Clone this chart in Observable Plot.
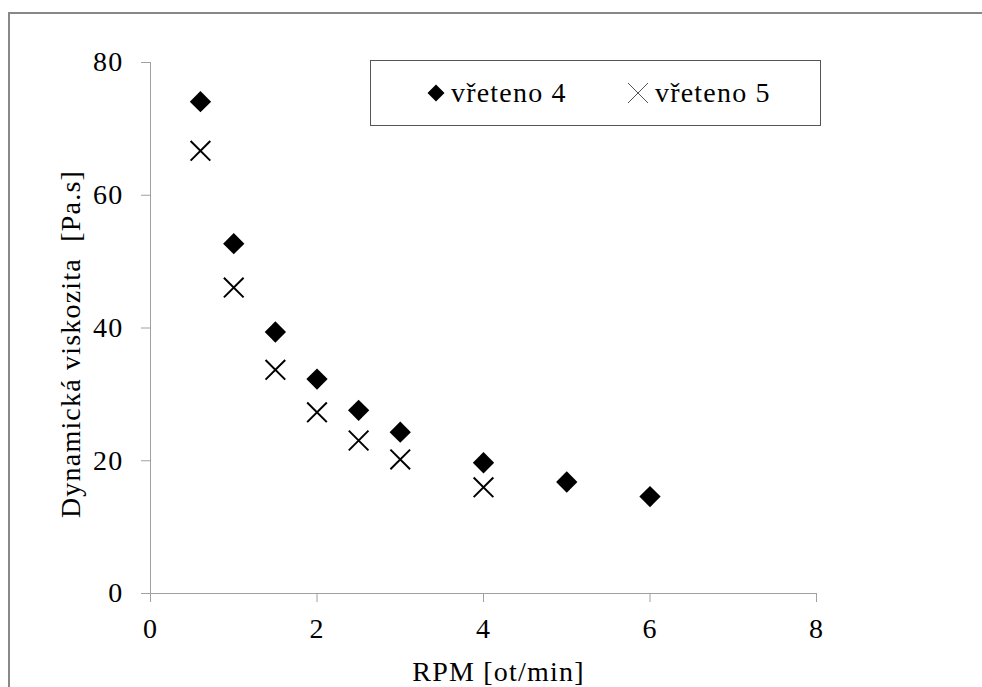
<!DOCTYPE html>
<html><head><meta charset="utf-8">
<script src="https://cdn.jsdelivr.net/npm/d3@7"></script>
<script src="https://cdn.jsdelivr.net/npm/@observablehq/plot@0.6"></script>
<style>
body{margin:0;background:#fff}
#wrap{position:relative;width:982px;height:687px;overflow:hidden;font-family:"Liberation Serif",serif;background:#fff}
#frame{position:absolute;left:8px;top:12px;width:1100px;height:1100px;border:2px solid #888;box-sizing:border-box}
#chart{position:absolute;left:0;top:0}
#legend{position:absolute;left:370px;top:60px;width:451px;height:66px;box-sizing:border-box;border:1.5px solid #555;background:#fff;font-size:28px;letter-spacing:1.2px;color:#000}
#legend .item{display:flex;align-items:center;position:absolute;top:0;height:100%}
#legend svg{display:block}
</style>
</head><body>
<div id="wrap"><div id="frame"></div><div id="chart"></div><div id="legend"></div></div>
<script>
const series4Label = "vřeteno 4";
const series5Label = "vřeteno 5";
const rpm4 = [0.6, 1, 1.5, 2, 2.5, 3, 4, 5, 6];
const visc4 = [74.1, 52.7, 39.4, 32.3, 27.6, 24.3, 19.7, 16.8, 14.6];
const rpm5 = [0.6, 1, 1.5, 2, 2.5, 3, 4];
const visc5 = [66.7, 46.1, 33.7, 27.3, 23.05, 20.2, 16.0];
const xTicks = [0, 2, 4, 6, 8];
const yTicks = [0, 20, 40, 60, 80];
const xTitle = "RPM [ot/min]";
const yTitle = "Dynamická viskozita\u00a0 [Pa.s]";

const d4 = rpm4.map((x, i) => ({x, y: visc4[i]}));
const d5 = rpm5.map((x, i) => ({x, y: visc5[i]}));
const axisColor = "#a0a0a0";

const chart = Plot.plot({
  width: 982, height: 687,
  marginLeft: 150, marginRight: 166, marginTop: 62, marginBottom: 94,
  style: {fontFamily: "'Liberation Serif', serif", fontSize: "28px", letterSpacing: "1.2px", background: "transparent", color: "black", overflow: "visible"},
  x: {domain: [0, 8]},
  y: {domain: [0, 80]},
  marks: [
    Plot.ruleY([0], {stroke: axisColor}),
    Plot.ruleX([0], {stroke: axisColor}),
    Plot.axisX({ticks: xTicks, tickSize: 9, tickPadding: 16, stroke: axisColor, fill: "black", label: null, tickFormat: d => String(d)}),
    Plot.axisY({ticks: yTicks, tickSize: 9, tickPadding: 18, stroke: axisColor, fill: "black", label: null, tickFormat: d => String(d)}),
    Plot.dot(d4, {x: "x", y: "y", symbol: "diamond2", fill: "black", stroke: "none", r: 9.6}),
    Plot.dot(d5, {x: "x", y: "y", symbol: "times", stroke: "black", strokeWidth: 2, r: 9}),
    Plot.text([xTitle], {frameAnchor: "bottom", text: d => d, textAnchor: "middle", lineAnchor: "middle", dy: 79, dx: 15, fill: "black"}),
    Plot.text([yTitle], {frameAnchor: "left", text: d => d, textAnchor: "middle", lineAnchor: "middle", rotate: -90, dx: -79, dy: 16, fill: "black"})
  ]
});
document.getElementById("chart").appendChild(chart);

// legend
const legend = document.getElementById("legend");
function item(left, symbolSvg, label) {
  const el = document.createElement("div");
  el.className = "item";
  el.style.left = left + "px";
  el.innerHTML = symbolSvg + `<span style="margin-left:6px;line-height:1;font-family:'Liberation Serif',serif">${label}</span>`;
  legend.appendChild(el);
}
item(56, `<svg width="18" height="18" viewBox="-9 -9 18 18"><path d="M0,-8.5L8.5,0L0,8.5L-8.5,0Z" fill="black"/></svg>`, series4Label);
item(256, `<svg width="22" height="22" viewBox="-11 -11 22 22"><path d="M-10,-10L10,10M-10,10L10,-10" stroke="#555" stroke-width="1" fill="none"/></svg>`, series5Label);
</script>
</body></html>
